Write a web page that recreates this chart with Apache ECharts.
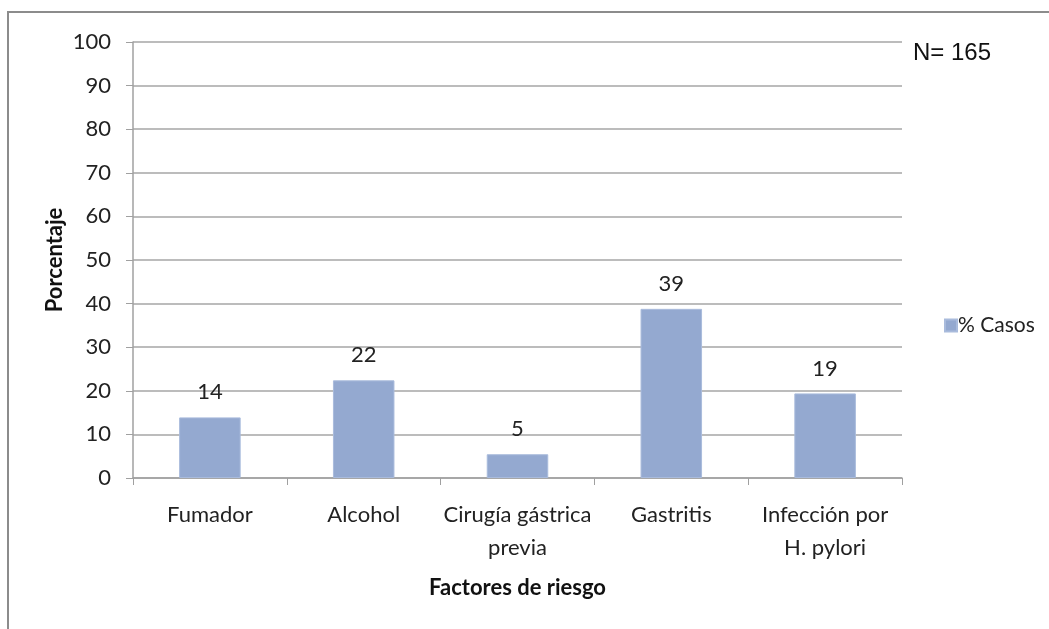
<!DOCTYPE html>
<html>
<head>
<meta charset="utf-8">
<script src="https://cdn.jsdelivr.net/npm/echarts@6/dist/echarts.min.js"></script>
<style>html,body{margin:0;padding:0;background:#fff}#c{width:1049px;height:629px}</style>
</head>
<body>
<div id="c"></div>
<script>
var categories = ['Fumador', 'Alcohol', 'Cirugía gástrica\nprevia', 'Gastritis', 'Infección por\nH. pylori'];
var casos = [13.9, 22.4, 5.45, 38.8, 19.4];
var yTicks = [0, 10, 20, 30, 40, 50, 60, 70, 80, 90, 100];

var chart = echarts.init(document.getElementById('c'), null, {renderer: 'canvas'});
var font = 'Lato, "Open Sans", sans-serif';
chart.setOption({
  animation: false,
  backgroundColor: '#fff',
  graphic: [
    {type: 'rect', shape: {x: 8, y: 12, width: 1200, height: 800}, style: {fill: 'none', stroke: '#8c8c8c', lineWidth: 2}, z: -1},
    {type: 'text', left: 913, top: 41, style: {text: 'N= 165', font: '24px "Liberation Sans", Arial, sans-serif', fill: '#111'}}
  ],
  grid: {left: 133, right: 147, top: 42, bottom: 151, containLabel: false},
  legend: {
    data: ['% Casos'], left: 939, top: 310, orient: 'vertical',
    itemWidth: 12, itemHeight: 12, icon: 'rect', itemGap: 4,
    textStyle: {fontFamily: font, fontSize: 21, color: '#222', padding: [0, 0, 0, -4]}
  },
  xAxis: {
    type: 'category', data: categories,
    name: 'Factores de riesgo', nameLocation: 'middle', nameGap: 99, nameMoveOverlap: false,
    nameTextStyle: {fontFamily: font, fontSize: 22, fontWeight: 'bold', color: '#111'},
    axisLine: {lineStyle: {color: '#a0a0a0', width: 1.5}},
    axisTick: {show: true, length: 7, lineStyle: {color: '#a0a0a0'}},
    axisLabel: {fontFamily: font, fontSize: 22, color: '#222', margin: 20, lineHeight: 33, interval: 0}
  },
  yAxis: {
    type: 'value', min: 0, max: 100, interval: 10,
    name: 'Porcentaje', nameLocation: 'middle', nameGap: 67, nameRotate: 90, nameMoveOverlap: false,
    nameTextStyle: {fontFamily: font, fontSize: 22, fontWeight: 'bold', color: '#111'},
    axisLine: {show: true, lineStyle: {color: '#a0a0a0', width: 1.5}},
    axisTick: {show: true, length: 7, lineStyle: {color: '#a0a0a0'}},
    axisLabel: {fontFamily: font, fontSize: 22, color: '#222', margin: 22,
      formatter: function (v) { return yTicks.indexOf(v) >= 0 ? String(v) : ''; }},
    splitLine: {lineStyle: {color: '#a6a6a6', width: 1.5}}
  },
  series: [{
    name: '% Casos', type: 'bar', data: casos, barWidth: '40%',
    itemStyle: {color: '#94a9d0', borderColor: '#a9bbdc', borderWidth: 1},
    label: {show: true, position: 'top', distance: 14, fontFamily: font, fontSize: 22, color: '#222',
      formatter: function (p) { return Math.round(p.value); }}
  }]
});
</script>
</body>
</html>
